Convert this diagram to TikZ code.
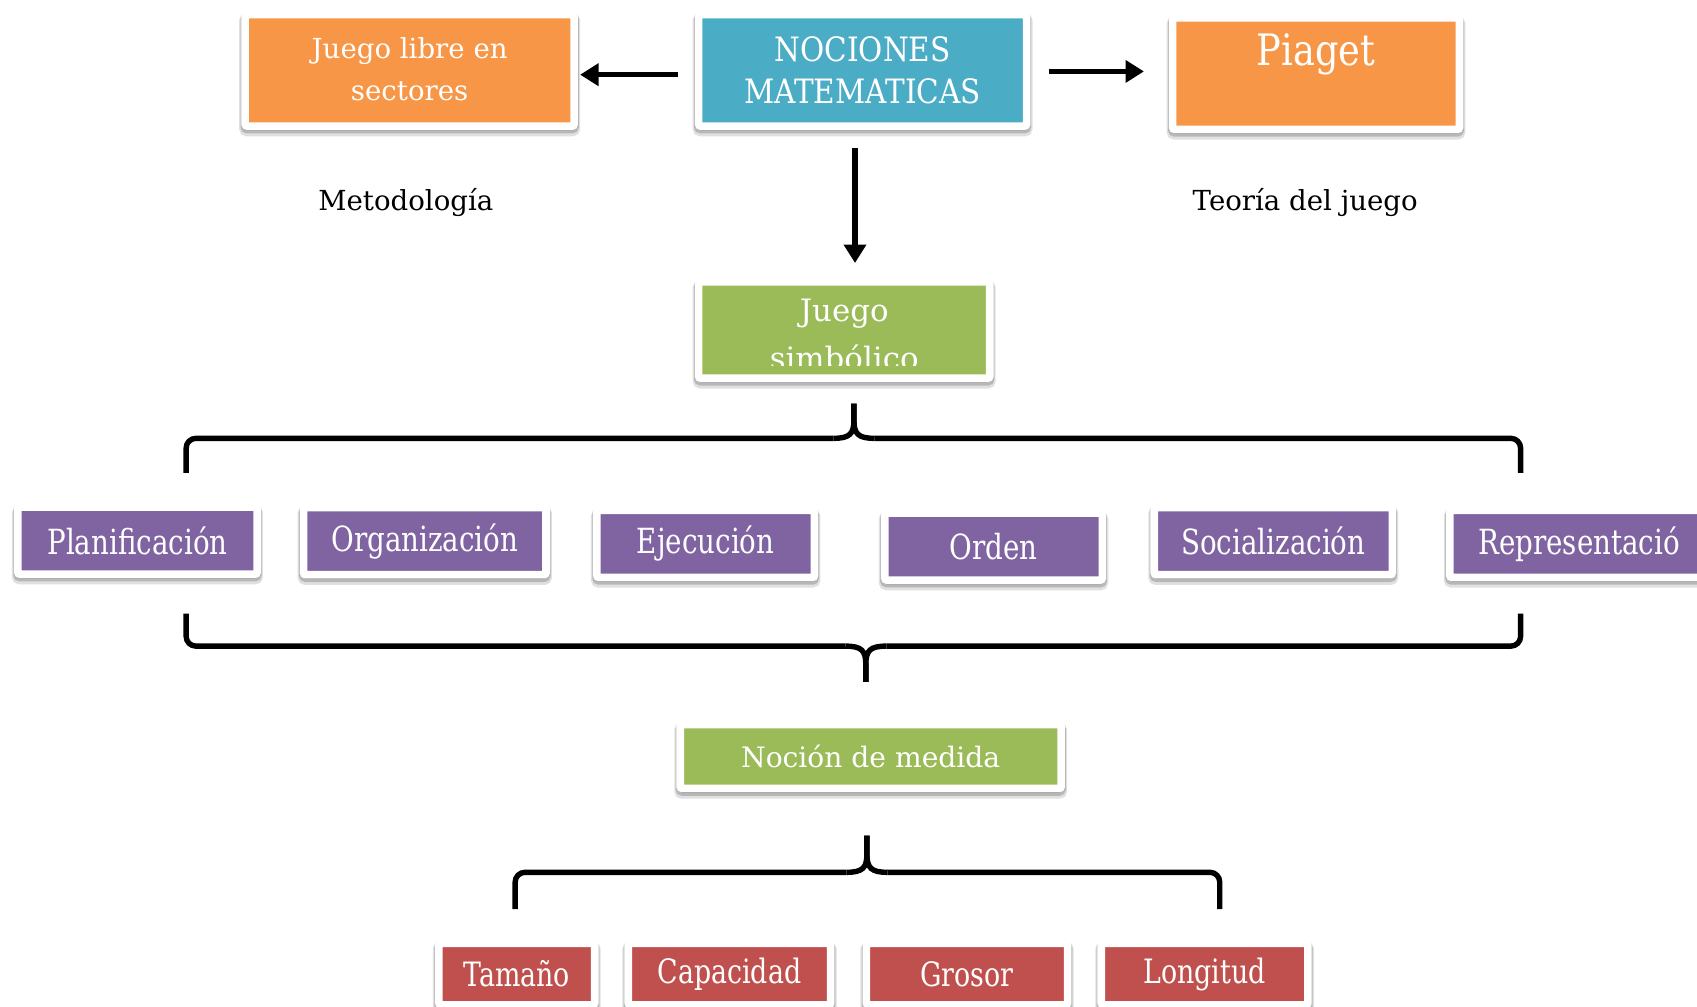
\documentclass[tikz,border=0pt]{standalone}
\usepackage{fontspec}
\usepackage{graphicx}
\setmainfont{DejaVu Serif}
\usetikzlibrary{shadows,arrows.meta}
\definecolor{corange}{HTML}{F79646}
\definecolor{cblue}{HTML}{4BACC6}
\definecolor{cgreen}{HTML}{9BBB59}
\definecolor{cpurple}{HTML}{8064A2}
\definecolor{cred}{HTML}{C0504D}
\newcommand\cnd[1]{\scalebox{0.8}[1]{#1}}
\tikzset{
  box/.style={draw=white, line width=7pt, rounded corners=2pt, inner sep=0pt,
    text=white, align=center,
    drop shadow={shadow xshift=0pt, shadow yshift=-4pt, opacity=.12, fill=black, draw=black, line width=11pt},
    drop shadow={shadow xshift=0pt, shadow yshift=-2.5pt, opacity=.18, fill=black, draw=black, line width=8.5pt}},
  pbox/.style={box, fill=cpurple, minimum height=62pt, font=\fontsize{32}{36}\selectfont},
  rbox/.style={box, fill=cred, minimum height=57pt, font=\fontsize{31}{36}\selectfont},
  arr/.style={line width=5pt, -{Triangle[length=17pt,width=20pt]}},
  brace/.style={line width=5pt, line join=round},
  plain/.style={font=\fontsize{25.5}{30}\selectfont, text=black}
}
\begin{document}
\begin{tikzpicture}[x=1pt,y=-1pt]
\clip (0,0) rectangle (1568,930);
\fill[white] (0,0) rectangle (1568,930);
% top row
\node[box, fill=corange, minimum width=304pt, minimum height=103pt,
      font=\fontsize{25.5}{39}\selectfont] (jl) at (378.5,65) {\raisebox{3pt}{Juego libre en}\\\raisebox{3pt}{sectores}};
\node[box, fill=cblue, minimum width=303pt, minimum height=103pt,
      font=\fontsize{31}{39}\selectfont] (nm) at (797,65) {\scalebox{0.88}[1]{NOCIONES}\\\scalebox{0.88}[1]{MATEMATICAS}};
\node[box, fill=corange, minimum width=265pt, minimum height=103pt] (pg) at (1216,68) {};
\node[text=white, font=\fontsize{40}{44}\selectfont] (pgt) at (1216,50) {\scalebox{0.85}[1]{Piaget}};
% arrows
\draw[arr, shorten <=16pt, shorten >=2pt] ([yshift=-4pt]nm.west) -- ([yshift=-4pt]nm.west -| jl.east);
\draw[arr, shorten <=17pt, shorten >=23pt] ([yshift=2pt]pg.west -| nm.east) -- ([yshift=2pt]pg.west);
% labels
\node[plain] (met) at (375,187) {Metodología};
\node[plain] (teo) at (1206,187) {Teoría del juego};
% juego simbolico
\node[box, fill=cgreen, minimum width=269pt, minimum height=89pt] (js) at (780,305) {};
\draw[arr, shorten <=17pt, shorten >=14pt] ([xshift=-7pt]nm.south) -- ([xshift=-7pt]nm.south |- js.north);
\begin{scope}
\clip (649,264) rectangle (911,338);
\node[text=white, font=\fontsize{28.5}{39}\selectfont] (jst1) at (780,290) {Juego};
\node[text=white, font=\fontsize{28.5}{39}\selectfont] (jst2) at (780,330) {simbólico};
\end{scope}
% top brace
\coordinate (b1a) at (789,373);
\draw[brace, rounded corners=9pt] (172,437) -- (172,405) -- (770,405);
\draw[brace] (770,405) .. controls (785,405) and (789,401) .. (789,388) -- (b1a);
\draw[brace] (b1a) -- (789,388) .. controls (789,401) and (793,405) .. (808,405);
\draw[brace, rounded corners=9pt] (808,405) -- (1405,405) -- (1405,437);
% purple row
\node[pbox, minimum width=221pt] (pl) at (127,499.5) {\cnd{Planificación}};
\node[pbox, minimum width=224pt] (or) at (392.5,500) {\cnd{Organización}};
\node[pbox, minimum width=201pt] (ej) at (652,502.5) {\cnd{Ejecución}};
\node[pbox, minimum width=201pt] (od) at (918,505) {\cnd{Orden}};
\node[pbox, minimum width=220pt] (so) at (1176.5,500) {\cnd{Socialización}};
\node[pbox, minimum width=239pt] (re) at (1459,502.5) {\cnd{Representació}};
% bottom brace
\coordinate (b2a) at (800,630);
\draw[brace, rounded corners=9pt] (172,567) -- (172,597) -- (781,597);
\draw[brace] (781,597) .. controls (796,597) and (800,601) .. (800,614) -- (b2a);
\draw[brace] (b2a) -- (800,614) .. controls (800,601) and (804,597) .. (819,597);
\draw[brace, rounded corners=9pt] (819,597) -- (1405,597) -- (1405,567);
% nocion de medida
\node[box, fill=cgreen, minimum width=352pt, minimum height=59pt,
      font=\fontsize{26}{30}\selectfont] (nd) at (804.5,699) {Noción de medida};
% third brace
\coordinate (b3a) at (801,772);
\draw[brace, rounded corners=9pt] (476,840) -- (476,806) -- (782,806);
\draw[brace] (782,806) .. controls (797,806) and (801,802) .. (801,789) -- (b3a);
\draw[brace] (b3a) -- (801,789) .. controls (801,802) and (805,806) .. (820,806);
\draw[brace, rounded corners=9pt] (820,806) -- (1127,806) -- (1127,840);
% red row
\node[rbox, minimum width=144pt] (ta) at (477.5,900) {\cnd{Tamaño}};
\node[rbox, minimum width=187pt] (ca) at (674,900) {\cnd{Capacidad}};
\node[rbox, minimum width=186pt] (gr) at (893.5,900) {\cnd{Grosor}};
\node[rbox, minimum width=191pt] (lo) at (1113,900) {\cnd{Longitud}};
\end{tikzpicture}
\end{document}
